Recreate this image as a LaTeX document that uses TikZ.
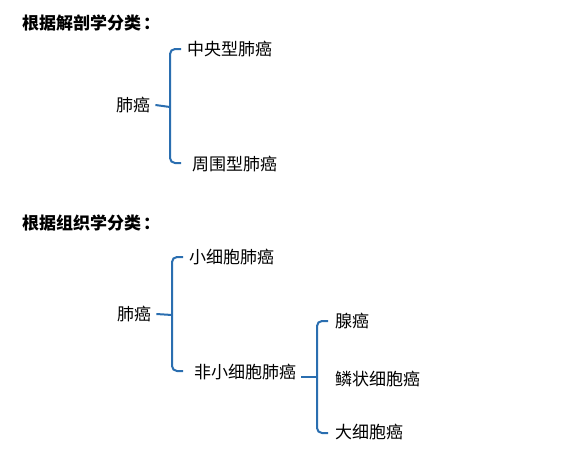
\documentclass[tikz,border=0pt]{standalone}
\usepackage{fontspec}
\setmainfont{Noto Sans CJK SC}
\definecolor{braceblue}{HTML}{2A6EB0}
\tikzset{
  lbl/.style={anchor=west, inner sep=0pt, font=\fontsize{17}{19}\selectfont},
  ttl/.style={anchor=west, inner sep=0pt, font=\fontsize{17}{19}\selectfont\bfseries},
  br/.style={draw=braceblue, line width=2pt, rounded corners=5pt},
}
\begin{document}
\begin{tikzpicture}[x=1pt,y=-1pt]
\useasboundingbox (0,0) rectangle (565,448);
% Section 1
\node[ttl] (t1) at (22,23) {根据解剖学分类\hspace{2pt}：};
\node[lbl] (p1) at (116,105) {肺癌};
\node[lbl] (a1) at (187,49) {中央型肺癌};
\node[lbl] (a2) at (192,164) {周围型肺癌};
\coordinate (m1) at (170,107);
\coordinate (e1) at (181,49);
\coordinate (e2) at (181,163);
\draw[br] ([xshift=5pt]p1.east) -- (m1);
\draw[br] (e1) -| (m1) |- (e2);
% Section 2
\node[ttl] (t2) at (22,223) {根据组织学分类\hspace{2pt}：};
\node[lbl] (p2) at (117,314) {肺癌};
\node[lbl] (b1) at (189,257) {小细胞肺癌};
\node[lbl] (b2) at (194,372) {非小细胞肺癌};
\coordinate (m2) at (172,315);
\coordinate (f1) at (183,257);
\coordinate (f2) at (183,371);
\draw[br] ([xshift=5pt]p2.east) -- (m2);
\draw[br] (f1) -| (m2) |- (f2);
% Sub-brace
\node[lbl] (c1) at (335,321) {腺癌};
\node[lbl] (c2) at (335,379) {鳞状细胞癌};
\node[lbl] (c3) at (335,432) {大细胞癌};
\coordinate (m3) at (317,377);
\coordinate (g1) at (328,321);
\coordinate (g2) at (328,433);
\draw[br] ([xshift=5pt]b2.east |- m3) -- (m3);
\draw[br] (g1) -| (m3) |- (g2);
\end{tikzpicture}
\end{document}
